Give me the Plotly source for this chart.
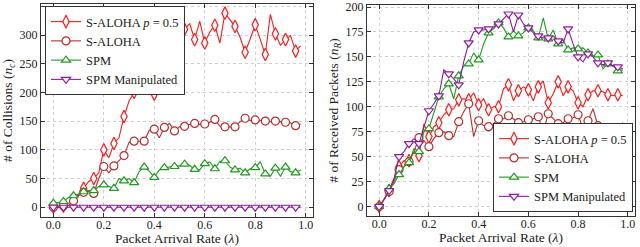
import plotly.graph_objects as go

lam = [round(0.02 * i, 2) for i in range(50)]

# Left panel: number of collisions
col_aloha_p05 = [0, 1, 2, 7, 12, 22, 33, 45, 50, 60, 100, 86, 111, 121, 158, 185, 200, 205, 240, 215,
                 197, 240, 270, 290, 300, 300, 310, 320, 292, 324, 286, 305, 317, 286, 338, 326, 315, 296, 270, 293,
                 318, 292, 266, 336, 302, 282, 292, 299, 272, 281]
col_aloha = [0, 0, 2, 3, 11, 20, 26, 28, 24, 50, 71, 60, 72, 81, 90, 113, 115, 115, 115, 134,
             136, 121, 139, 146, 133, 140, 141, 144, 146, 144, 145, 148, 153, 141, 140, 140, 140, 149, 155, 151,
             152, 151, 150, 149, 150, 149, 148, 147, 142, 145]
col_spm = [7, 8, 10, 17, 20, 24, 27, 29, 29, 36, 39, 36, 33, 50, 46, 50, 43, 62, 70, 63,
           52, 65, 69, 70, 71, 72, 75, 73, 66, 65, 76, 79, 67, 80, 81, 70, 65, 68, 60, 67,
           69, 79, 58, 54, 68, 54, 70, 62, 60, 65]
col_spm_man = [0] * 50

# Right panel: number of received packets
rec_aloha_p05 = [0, 7, 16, 28, 40, 46, 46, 55, 51, 83, 70, 80, 84, 92, 97, 98, 107, 108, 107, 114,
                 102, 108, 97, 100, 100, 118, 122, 106, 116, 120, 117, 106, 120, 126, 104, 113, 125, 111, 120, 116,
                 104, 100, 112, 116, 116, 115, 112, 111, 112, 111]
rec_aloha = [0, 7, 15, 25, 37, 40, 45, 55, 69, 66, 60, 68, 74, 75, 71, 70, 85, 95, 103, 70,
             86, 81, 80, 83, 88, 88, 91, 88, 84, 85, 87, 88, 90, 75, 93, 88, 83, 84, 88, 89,
             92, 78, 86, 98, 81, 81, 79, 70, 78, 84]
rec_spm = [0, 7, 18, 23, 32, 40, 44, 58, 55, 75, 78, 93, 110, 118, 123, 108, 131, 141, 143, 154,
           147, 163, 174, 178, 184, 179, 170, 176, 171, 174, 179, 176, 169, 189, 168, 177, 163, 167, 157, 159,
           158, 159, 154, 151, 152, 138, 143, 141, 136, 137]
rec_spm_man = [0, 7, 16, 28, 50, 55, 63, 68, 63, 80, 96, 103, 111, 137, 133, 128, 122, 145, 164, 175,
               177, 177, 178, 180, 183, 188, 193, 175, 192, 183, 179, 174, 171, 169, 169, 171, 166, 164, 178, 163,
               150, 145, 153, 150, 144, 142, 144, 141, 140, 138]

x_ticks = [0, 0.2, 0.4, 0.6, 0.8, 1.0]
x_ticklabels = ["0.0", "0.2", "0.4", "0.6", "0.8", "1.0"]
y1_ticks = [0, 50, 100, 150, 200, 250, 300, 350]
y2_ticks = [0, 25, 50, 75, 100, 125, 150, 175, 200]

names = ["S-ALOHA <i>p</i> = 0.5", "S-ALOHA", "SPM", "SPM Manipulated"]
colors = ["#ff1a1a", "#b5302e", "#1f9a1f", "#8e1c9e"]
symbols = ["diamond-tall", "circle", "triangle-up", "triangle-down"]

FONT = "Liberation Serif"
TXT = "#222222"

fig = go.Figure()


def add(y, k, xa, ya, legend):
    n = len(y)
    fill = ["white" if i % 2 == 0 else "rgba(0,0,0,0)" for i in range(n)]
    edge = [colors[k] if i % 2 == 0 else "rgba(0,0,0,0)" for i in range(n)]
    fig.add_trace(go.Scatter(
        x=lam, y=y, name=names[k], mode="lines+markers",
        line=dict(color=colors[k], width=1.1),
        marker=dict(symbol=symbols[k], size=8 if k != 0 else 9, color=fill,
                    line=dict(color=edge, width=1.2)),
        xaxis=xa, yaxis=ya, legend=legend, cliponaxis=True,
    ))


for k, y in enumerate([col_aloha_p05, col_aloha, col_spm, col_spm_man]):
    add(y, k, "x", "y", "legend")
for k, y in enumerate([rec_aloha_p05, rec_aloha, rec_spm, rec_spm_man]):
    add(y, k, "x2", "y2", "legend2")

W, H = 640, 247


def axis(title, standoff, **kw):
    d = dict(
        showline=True, linecolor="#333333", linewidth=1.2, mirror="ticks",
        ticks="inside", ticklen=4, tickwidth=1, tickcolor="#333333",
        showgrid=True, gridcolor="#cfcfcf", griddash="dot", gridwidth=1,
        zeroline=False, tickfont=dict(family=FONT, size=12, color=TXT),
        title=dict(text=title, standoff=standoff, font=dict(family=FONT, size=13.5, color=TXT)),
        automargin=False,
    )
    d.update(kw)
    return d


fig.update_layout(
    width=W, height=H,
    margin=dict(l=0, r=0, t=0, b=0),
    paper_bgcolor="white", plot_bgcolor="white",
    font=dict(family=FONT, color=TXT),
    xaxis=axis("Packet Arrival Rate (<i>λ</i>)", 1, domain=[41 / W, 313 / W], range=[-0.049, 1.029],
               tickvals=x_ticks, ticktext=x_ticklabels, anchor="y", ticklabelstandoff=-4),
    yaxis=axis("# of Collisions (<i>n</i><sub><i>c</i></sub>)", 3, domain=[1 - 217 / H, 1 - 4 / H],
               range=[-17, 354], tickvals=y1_ticks, anchor="x"),
    xaxis2=axis("Packet Arrival Rate (<i>λ</i>)", 1, domain=[367 / W, 635 / W], range=[-0.049, 1.029],
                tickvals=x_ticks, ticktext=x_ticklabels, anchor="y2", ticklabelstandoff=-4),
    yaxis2=axis("# of Received Packets (<i>n</i><sub><i>R</i></sub>)", 3, domain=[1 - 216 / H, 1 - 5 / H],
                range=[-9.5, 202], tickvals=y2_ticks, anchor="x2"),
    legend=dict(x=45 / W, y=1 - 6 / H, xanchor="left", yanchor="top",
                bgcolor="white", bordercolor="#333333", borderwidth=1,
                font=dict(family=FONT, size=12.5, color=TXT), itemwidth=30,
                tracegroupgap=0),
    legend2=dict(x=493 / W, y=1 - 212 / H, xanchor="left", yanchor="bottom",
                 bgcolor="white", bordercolor="#333333", borderwidth=1,
                 font=dict(family=FONT, size=12.5, color=TXT), itemwidth=30,
                 tracegroupgap=0),
    showlegend=True,
)

fig.write_html("out.html", config={"displayModeBar": False},
               post_script="document.body.style.margin='0';document.body.style.padding='0';")
